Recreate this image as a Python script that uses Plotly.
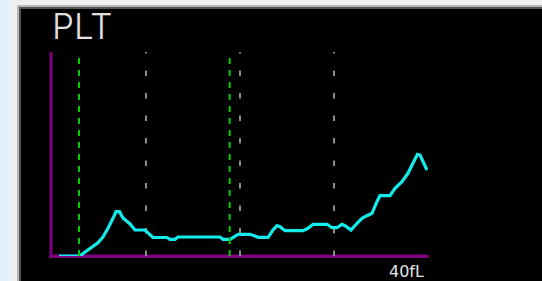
import plotly.graph_objects as go

# ---- data (x in fL, y in relative counts) ----
x_fl = [0.74, 2.98, 3.30, 3.83, 4.36, 4.89, 5.43, 5.96, 6.49, 6.81, 7.18, 7.55, 8.30, 8.83,
        9.89, 10.43, 10.74, 12.23, 12.55, 13.09, 13.40, 17.87, 18.19, 18.94, 19.47, 19.79,
        21.06, 21.81, 21.97, 22.98, 23.51, 23.94, 24.26, 24.79, 26.70, 27.23, 27.77, 29.26,
        29.79, 30.32, 30.85, 31.17, 31.81, 32.45, 32.98, 33.51, 34.04, 34.57, 34.89, 35.96,
        36.49, 37.23, 37.87, 38.40, 38.88, 39.15, 39.89]
counts = [0, 0, 2.5, 6, 9.3, 13.3, 19.3, 27.7, 37.7, 44.3, 44.3, 38, 32, 26,
          26, 21, 18.5, 18.5, 16.7, 16.7, 19, 19, 16.7, 16.7, 20.3, 21.7,
          21.7, 19.5, 18.7, 18.7, 26, 30.3, 29.3, 25.3, 25.3, 27.7, 31.7, 31.7,
          28.3, 28.3, 31.7, 30.3, 26, 32.7, 37.7, 40.3, 42.7, 54.3, 60.3, 60.3,
          67.7, 74.3, 82.7, 92.7, 101.7, 101, 86]
grid_x = [10, 20, 30]
discriminators = [2.87, 18.9]
title_text = "PLT"
unit_label = "40fL"
x_max = 40
y_max = 204

W, H = 542, 281
L, R, T, B = 52, 428, 52, 256  # plot area in pixels


def px(xp):
    return (xp - L) / (R - L)


def py(yp):
    return (B - yp) / (B - T)


fig = go.Figure()
fig.add_trace(go.Scatter(x=x_fl, y=counts, mode="lines",
                         line=dict(color="#14ecec", width=3.2),
                         hoverinfo="skip", showlegend=False))

shapes = []
# frame background
shapes.append(dict(type="rect", xref="paper", yref="paper", x0=px(0), x1=px(12), y0=py(0), y1=py(H),
                   fillcolor="#e6f0fa", line_width=0, layer="below"))
shapes.append(dict(type="rect", xref="paper", yref="paper", x0=px(12), x1=px(W), y0=py(0), y1=py(H),
                   fillcolor="#efefef", line_width=0, layer="below"))
shapes.append(dict(type="rect", xref="paper", yref="paper", x0=px(17), x1=px(W), y0=py(5), y1=py(H),
                   fillcolor="#b8b8b8", line_width=0, layer="below"))
shapes.append(dict(type="rect", xref="paper", yref="paper", x0=px(19), x1=px(W), y0=py(7), y1=py(H),
                   fillcolor="#555555", line_width=0, layer="below"))
shapes.append(dict(type="rect", xref="paper", yref="paper", x0=px(21), x1=px(W), y0=py(9), y1=py(H),
                   fillcolor="#000000", line_width=0, layer="below"))
# purple axes
shapes.append(dict(type="line", xref="paper", yref="paper", x0=px(51), x1=px(51), y0=py(52), y1=py(257.5),
                   line=dict(color="#800080", width=3), layer="below"))
shapes.append(dict(type="line", xref="paper", yref="paper", x0=px(49.5), x1=px(428.5), y0=py(256.3), y1=py(256.3),
                   line=dict(color="#800080", width=3.5), layer="below"))
# gray grid lines
for gx in grid_x:
    shapes.append(dict(type="line", xref="x", yref="paper", x0=gx, x1=gx, y0=0, y1=1,
                       line=dict(color="#8c8c8c", width=2, dash="5.5px,17px"), layer="below"))
# green discriminators
for dx in discriminators:
    shapes.append(dict(type="line", xref="x", yref="paper", x0=dx, x1=dx, y0=0, y1=1,
                       line=dict(color="#00d000", width=2, dash="6px,6px"), layer="above"))

annotations = [
    dict(text=title_text, xref="paper", yref="paper", x=px(49.5), y=py(49), xanchor="left", yanchor="bottom",
         showarrow=False, font=dict(family="Inter, Liberation Sans", size=35, color="#e0e0e0", weight=300)),
    dict(text=unit_label, xref="paper", yref="paper", x=px(426), y=py(260), xanchor="right", yanchor="top",
         showarrow=False, font=dict(family="DejaVu Sans", size=16, color="#e4e4e4")),
]

fig.update_layout(
    width=W, height=H,
    margin=dict(l=L, r=W - R, t=T, b=H - B, pad=0),
    paper_bgcolor="#efefef", plot_bgcolor="rgba(0,0,0,0)",
    xaxis=dict(range=[0, x_max], visible=False, fixedrange=True),
    yaxis=dict(range=[0, y_max], visible=False, fixedrange=True),
    shapes=shapes, annotations=annotations,
)

fig.write_html("out.html", config={"displayModeBar": False},
               post_script="document.body.style.margin='0';document.body.style.overflow='hidden';")
